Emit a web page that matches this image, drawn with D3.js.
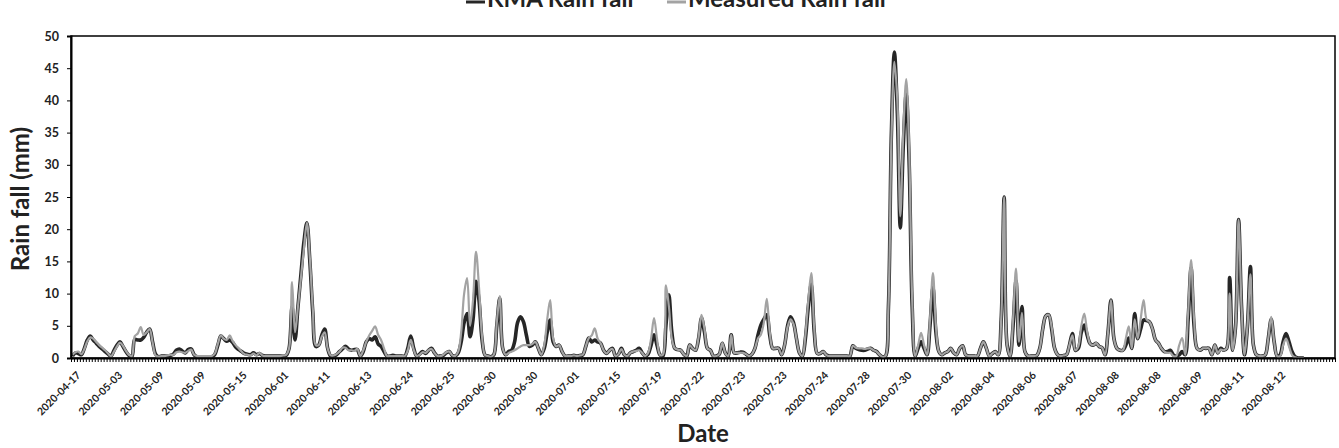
<!DOCTYPE html>
<html>
<head>
<meta charset="utf-8">
<script src="https://cdn.jsdelivr.net/npm/d3@7"></script>
<style>
  body { margin: 0; background: #fff; }
  text { font-family: Lato, "Open Sans", sans-serif; font-weight: bold; }
</style>
</head>
<body>
<div id="chart"></div>
<script>
// x-axis tick labels (one every 14 days)
var dateLabels = ["2020-04-17","2020-05-03","2020-05-09","2020-05-09","2020-05-15","2020-06-01",
  "2020-06-11","2020-06-13","2020-06-24","2020-06-25","2020-06-30","2020-06-30","2020-07-01",
  "2020-07-15","2020-07-19","2020-07-22","2020-07-23","2020-07-23","2020-07-24","2020-07-28",
  "2020-07-30","2020-08-02","2020-08-04","2020-08-06","2020-08-07","2020-08-08","2020-08-08",
  "2020-08-09","2020-08-11","2020-08-12"];

var yTicks = [0, 5, 10, 15, 20, 25, 30, 35, 40, 45, 50];

// KMA rain fall (mm), one value per category, rows of 14
var kmaRain = [
  0.3,0.8,0.7,0.5,1.5,2.8,3.4,2.8,2.3,1.8,1.4,1.0,0.6,0.3,
  1.2,2.0,2.5,1.8,1.0,0.4,0.2,2.9,2.8,2.8,3.2,4.0,4.5,2.5,
  0.6,0.2,0.3,0.3,0.3,0.4,0.6,1.2,1.4,1.1,0.8,1.3,1.4,0.5,
  0.2,0.2,0.2,0.2,0.2,0.2,0.6,2.0,3.4,3.0,2.6,2.8,2.4,1.7,
  1.3,1.0,0.7,0.6,0.5,0.8,0.5,0.7,0.4,0.3,0.3,0.3,0.3,0.3,
  0.3,0.3,0.4,1.5,8.0,2.8,8.0,13,18,21,15,7,1.8,2.0,
  3.5,4.5,1.5,0.3,0.3,0.5,1.0,1.4,1.8,1.4,1.2,1.3,1.3,0.3,
  1.0,2.5,3.0,2.8,3.3,2.2,1.8,1.0,0.3,0.3,0.4,0.3,0.3,0.3,
  0.3,1.5,3.4,1.5,0.3,0.6,1.0,0.7,1.2,1.5,0.8,0.3,0.3,0.4,
  0.8,1.0,0.4,0.3,0.8,2.5,5.5,6.9,3.3,6.0,11.9,9.0,3.0,0.5,
  0.3,0.2,0.5,5.0,9.3,1.5,0.5,1.0,1.2,2.5,5.5,6.4,5.6,3.5,
  1.8,2.0,2.5,1.5,0.5,1.5,4.0,5.9,2.5,1.8,2.0,1.0,0.3,0.3,
  0.3,0.4,0.3,0.4,0.5,1.8,3.1,2.5,2.8,2.5,2.3,1.2,0.7,1.2,
  1.5,0.3,0.6,1.5,0.5,0.3,0.8,1.0,1.2,1.5,0.8,0.3,0.6,2.0,
  3.6,2.0,0.5,0.3,5.0,9.8,4.0,1.5,1.3,1.2,0.6,0.3,2.0,1.5,
  1.2,3.0,6.2,4.0,1.5,1.2,0.3,0.3,0.6,2.3,0.8,0.3,3.6,0.8,
  0.8,0.9,0.9,0.6,0.3,0.6,1.5,3.5,5.1,6.0,6.7,3.5,1.5,1.5,
  1.5,0.5,2.0,5.0,6.4,5.5,3.0,0.8,0.3,3.0,8.0,11.5,4.0,0.7,
  0.7,1.0,0.5,0.3,0.3,0.3,0.3,0.3,0.3,0.3,0.3,1.9,1.5,1.3,
  1.2,1.2,1.4,1.5,1.2,1.0,0.5,0.2,0.3,8.0,35,47.5,38,20.2,
  33,41,30,8,0.3,1.5,2.5,1.5,0.5,5.0,11,4.0,1.0,0.5,
  0.8,1.0,1.5,0.8,0.5,1.5,1.9,0.5,0.3,0.3,0.3,0.3,1.5,2.5,
  1.5,0.3,0.7,1.0,0.5,6.0,25,2.0,0.3,5.0,12,2.0,8.0,1.0,
  0.3,0.3,0.3,0.4,1.5,4.5,6.5,6.7,4.5,1.5,0.5,0.3,0.4,0.5,
  2.0,3.8,1.2,1.5,4.0,5.1,3.5,2.2,2.0,2.3,1.8,1.6,0.5,4.0,
  9.0,3.0,1.5,1.2,1.2,2.0,3.1,1.5,6.9,3.0,4.5,5.9,5.8,5.6,
  4.5,2.8,2.3,1.5,1.0,1.0,1.2,0.5,0.3,0.5,1.0,0.5,6.0,14,
  5.0,1.5,1.2,1.5,1.5,1.5,0.5,2.0,0.8,1.5,1.2,1.5,12.5,1.2,
  5.0,21.5,8.0,0.5,5.0,14.2,2.0,0.5,0.3,0.3,0.5,3.0,6.0,2.5,
  0.3,0.5,2.5,3.8,2.5,1.0,0.2,0,0,0
];

// Measured rain fall (mm)
var measuredRain = [
  0.5,0.9,1.0,0.6,1.4,2.6,3.2,3.0,2.5,2.0,1.6,1.2,0.7,0.3,
  1.0,1.8,2.4,1.9,1.1,0.5,0.3,3.4,3.8,4.8,3.6,4.0,4.5,2.4,
  0.4,0.2,0.3,0.3,0.4,0.5,0.5,0.9,1.0,0.9,0.8,1.1,1.3,0.5,
  0.3,0.3,0.3,0.3,0.3,0.3,0.7,2.2,3.5,3.0,2.8,3.5,2.6,2.0,
  1.5,1.0,0.6,0.5,0.4,0.7,0.4,0.8,0.4,0.3,0.3,0.3,0.3,0.3,
  0.3,0.4,0.5,1.5,11.8,4.0,8.0,12.5,17,21,15.5,7.5,2.0,2.0,
  3.3,4.0,1.5,0.4,0.4,0.6,1.0,1.6,1.6,1.2,1.2,1.1,1.4,0.3,
  1.2,2.5,3.5,4.2,4.9,3.6,2.8,1.5,0.3,0.3,0.3,0.3,0.3,0.3,
  0.3,1.2,2.8,1.3,0.3,0.5,0.9,0.8,1.2,1.4,0.8,0.3,0.3,0.5,
  0.9,1.0,0.4,0.3,1.0,4.0,10,12.4,5.0,9.0,16.5,11,3.5,0.5,
  0.3,0.2,0.5,5.5,9.6,1.5,0.5,0.8,1.0,1.2,1.5,1.8,2.0,2.0,
  2.0,2.2,2.5,1.5,0.5,2.0,6.0,9.0,3.0,1.8,2.0,1.0,0.3,0.3,
  0.3,0.4,0.3,0.4,0.5,1.8,3.1,3.5,4.6,3.0,2.3,1.2,0.7,1.2,
  1.4,0.3,0.6,1.4,0.5,0.3,0.8,1.0,1.1,1.2,0.8,0.3,0.8,3.0,
  6.2,3.0,0.5,0.5,11.3,8.0,3.0,1.5,1.3,1.2,0.6,0.3,2.0,1.5,
  1.2,3.2,6.7,4.5,1.5,1.2,0.3,0.3,0.6,2.3,0.8,0.3,3.6,0.8,
  0.8,0.8,0.8,0.6,0.3,0.6,1.5,3.0,3.6,5.5,9.2,4.0,1.5,1.5,
  1.5,0.5,2.0,4.8,6.0,5.3,3.0,0.8,0.3,3.5,9.0,13.2,4.5,0.7,
  0.7,1.0,0.5,0.3,0.3,0.3,0.3,0.3,0.3,0.3,0.3,1.9,1.6,1.5,
  1.5,1.4,1.5,1.5,1.2,1.0,0.5,0.2,0.3,8.0,34,46,40,22,
  35,43.3,32,9,0.3,2.0,3.9,2.0,0.5,6.0,13.2,5.0,1.0,0.5,
  0.8,1.0,1.5,0.8,0.5,1.5,1.9,0.5,0.3,0.3,0.3,0.3,1.5,2.5,
  1.5,0.3,0.7,1.0,0.5,6.0,25,2.0,0.3,6.0,13.9,2.5,7.0,1.0,
  0.3,0.3,0.3,0.4,1.5,4.5,6.5,6.7,4.8,1.5,0.5,0.3,0.4,0.5,
  2.0,3.5,1.2,1.8,5.0,6.9,4.0,2.2,2.0,2.3,1.8,1.6,0.5,4.0,
  9.0,3.0,1.5,1.2,1.2,3.0,4.9,1.5,6.0,3.0,6.0,9.0,6.0,5.6,
  4.5,2.8,2.3,1.5,1.0,0.8,0.8,0.3,0.3,2.0,3.1,0.5,7.0,15.2,
  6.0,1.5,1.2,1.5,1.5,1.5,0.5,2.0,0.8,1.3,1.2,1.5,10,1.2,
  5.0,21.5,8.0,0.5,5.0,13,2.0,0.5,0.3,0.3,0.5,3.0,6.4,2.5,
  0.3,0.3,2.0,3.0,1.8,0.5,0.1,0,0,0
];

var nCategories = 426;   // categories on the axis (data stops a little before the end)
var labelStart = 2, labelStep = 14;

// set the dimensions of the plot area
var W = 1339, H = 448;
var plot = {left: 71, right: 1335, top: 36, bottom: 358};

var svg = d3.select("#chart")
  .append("svg")
    .attr("width", W)
    .attr("height", H);

// scales
var x = d3.scaleBand()
    .domain(d3.range(nCategories))
    .range([plot.left, plot.right])
    .padding(0);
var xEdge = d3.scaleLinear()
    .domain([0, nCategories])
    .range([plot.left, plot.right]);
var y = d3.scaleLinear()
    .domain([0, 50])
    .range([plot.bottom, plot.top]);

function cx(i) { return x(i) + x.bandwidth() / 2; }

// plot frame (top + right)
svg.append("rect")
    .attr("x", plot.left).attr("y", plot.top)
    .attr("width", plot.right - plot.left).attr("height", plot.bottom - plot.top)
    .attr("fill", "none").attr("stroke", "#000").attr("stroke-width", 1.5);

// lines
svg.append("clipPath").attr("id", "clip")
  .append("rect")
    .attr("x", plot.left).attr("y", plot.top - 2)
    .attr("width", plot.right - plot.left).attr("height", plot.bottom - plot.top + 2);

var line = d3.line()
    .x(function(d, i) { return cx(i); })
    .y(function(d) { return y(d); })
    .curve(d3.curveCatmullRom.alpha(0.5));

var g = svg.append("g").attr("clip-path", "url(#clip)");
g.append("path")
    .datum(kmaRain)
    .attr("fill", "none")
    .attr("stroke", "#262626")
    .attr("stroke-width", 3.6)
    .attr("stroke-linejoin", "round")
    .attr("d", line);
g.append("path")
    .datum(measuredRain)
    .attr("fill", "none")
    .attr("stroke", "#a3a3a3")
    .attr("stroke-width", 2.2)
    .attr("stroke-linejoin", "round")
    .attr("d", line);

// X axis: dense tick comb
svg.append("g")
    .attr("transform", "translate(0," + plot.bottom + ")")
    .call(d3.axisBottom(xEdge).tickValues(d3.range(nCategories + 1)).tickSize(4).tickSizeOuter(0).tickFormat(""))
    .call(function(a) {
      a.select(".domain").attr("stroke-width", 2.2);
      a.selectAll(".tick line").attr("stroke-width", 1);
    });

// X tick labels
svg.append("g").selectAll("text")
    .data(dateLabels)
  .enter()
  .append("text")
    .attr("transform", function(d, k) {
      var px = cx(labelStart + k * labelStep);
      return "translate(" + (px + 3) + "," + (plot.bottom + 18) + ") rotate(-45)";
    })
    .attr("text-anchor", "end")
    .attr("font-size", 10.5)
    .attr("fill", "#222")
    .text(function(d) { return d; });

// Y axis
svg.append("g")
    .attr("transform", "translate(" + plot.left + ",0)")
    .call(d3.axisLeft(y).tickValues(yTicks).tickSize(4).tickPadding(8))
    .call(function(a) {
      a.select(".domain").attr("stroke-width", 2);
      a.selectAll("text").attr("font-size", 12.5).attr("fill", "#222")
        .style("font-family", "Lato, sans-serif").style("font-weight", "bold");
    });

// axis titles
svg.append("text")
    .attr("transform", "translate(29," + ((plot.top + plot.bottom) / 2 + 2) + ") rotate(-90)")
    .attr("text-anchor", "middle")
    .attr("font-size", 24)
    .attr("fill", "#222")
    .text("Rain fall (mm)");

svg.append("text")
    .attr("x", 703).attr("y", 442)
    .attr("text-anchor", "middle")
    .attr("font-size", 24)
    .attr("fill", "#222")
    .text("Date");

// legend (partly cut off at the top)
var legend = [
  {name: "KMA Rain fall", color: "#262626", x: 466},
  {name: "Measured Rain fall", color: "#a3a3a3", x: 667}
];
var lg = svg.append("g").selectAll("g").data(legend).enter().append("g")
    .attr("transform", function(d) { return "translate(" + d.x + ",0)"; });
lg.append("line")
    .attr("x1", 0).attr("x2", 19).attr("y1", 2).attr("y2", 2)
    .attr("stroke", function(d) { return d.color; })
    .attr("stroke-width", 3);
lg.append("text")
    .attr("x", 21).attr("y", 7)
    .attr("font-size", 24)
    .attr("fill", "#222")
    .text(function(d) { return d.name; });
</script>
</body>
</html>
